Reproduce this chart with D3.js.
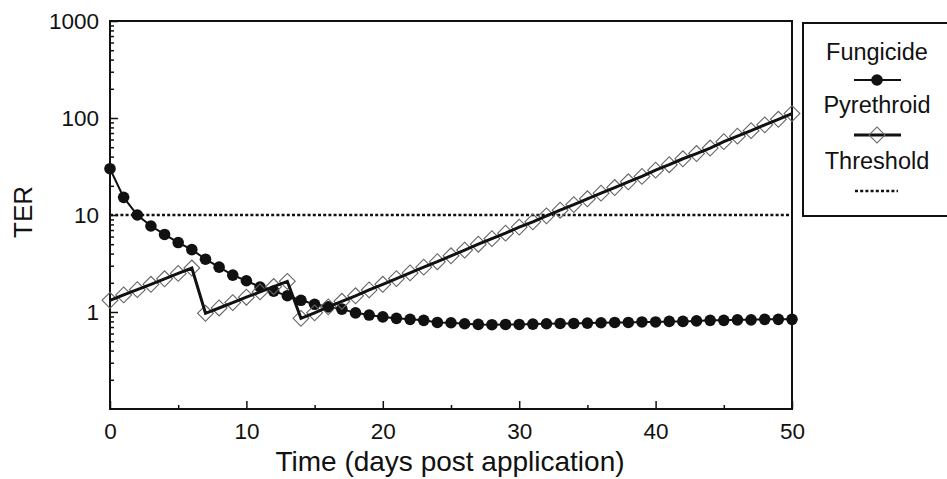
<!DOCTYPE html>
<html>
<head>
<meta charset="utf-8">
<script src="https://cdn.jsdelivr.net/npm/d3@7"></script>
<style>
  body { margin: 0; background: #fff; }
  svg { display: block; font-family: "Liberation Sans", Arial, sans-serif; }
  .axis text { font-size: 22.5px; fill: #111; }
  .axis line { stroke: #111; stroke-width: 1.5; }
</style>
</head>
<body>
<div id="chart"></div>
<script>
// days after application
var days = [0, 1, 2, 3, 4, 5, 6, 7, 8, 9, 10, 11, 12, 13, 14, 15, 16, 17, 18, 19, 20,
  21, 22, 23, 24, 25, 26, 27, 28, 29, 30, 31, 32, 33, 34, 35, 36, 37, 38, 39, 40,
  41, 42, 43, 44, 45, 46, 47, 48, 49, 50];

var fungicideTER = [30, 15.2, 10, 7.7, 6.3, 5.2, 4.4, 3.5, 2.9, 2.4, 2.1,
  1.81, 1.64, 1.47, 1.32, 1.2, 1.13, 1.07, 0.98, 0.93, 0.89,
  0.86, 0.84, 0.82, 0.78, 0.775, 0.757, 0.745, 0.74, 0.744, 0.744,
  0.75, 0.757, 0.762, 0.762, 0.768, 0.775, 0.78, 0.78, 0.79, 0.79,
  0.80, 0.80, 0.81, 0.82, 0.82, 0.83, 0.83, 0.84, 0.84, 0.84];

var pyrethroidTER = [1.32, 1.50, 1.70, 1.93, 2.2, 2.5, 2.84,
  0.97, 1.10, 1.25, 1.42, 1.61, 1.83, 2.07,
  0.86, 0.98, 1.13, 1.29, 1.47, 1.69, 1.93, 2.21, 2.53, 2.9, 3.3,
  3.8, 4.35, 5.0, 5.7, 6.5, 7.5, 8.5, 9.8, 11.2, 12.8,
  14.7, 16.8, 19.2, 22, 25, 29, 33, 38, 43, 49,
  57, 65, 74, 85, 97, 111];

var thresholdTER = 10;

var seriesNames = ["Fungicide", "Pyrethroid", "Threshold"];

var xMajorTicks = [0, 10, 20, 30, 40, 50];
var xMinorTicks = [5, 15, 25, 35, 45];
var yMajorTicks = [1, 10, 100, 1000];
var yMinorTicks = [0.2, 0.3, 0.4, 0.5, 0.6, 0.7, 0.8, 0.9,
  2, 3, 4, 5, 6, 7, 8, 9, 20, 30, 40, 50, 60, 70, 80, 90,
  200, 300, 400, 500, 600, 700, 800, 900];

var W = 947, H = 479;
var plot = {left: 110, right: 792, top: 21, bottom: 409};

var svg = d3.select("#chart").append("svg")
  .attr("width", W)
  .attr("height", H);

var x = d3.scaleLinear().domain([0, 50]).range([plot.left, plot.right]);
var y = d3.scaleLog().domain([0.1, 1000]).range([plot.bottom, plot.top]);

// minor ticks first so major ones sit on top
svg.append("g").attr("class", "axis")
  .attr("transform", "translate(0," + plot.bottom + ")")
  .call(d3.axisBottom(x).tickValues(xMinorTicks).tickSize(-4).tickFormat(""))
  .call(function(g){ g.select(".domain").remove(); });

svg.append("g").attr("class", "axis")
  .attr("transform", "translate(0," + plot.bottom + ")")
  .call(d3.axisBottom(x).tickValues(xMajorTicks).tickSize(-8).tickPadding(14).tickFormat(d3.format("d")))
  .call(function(g){ g.select(".domain").remove(); });

svg.append("g").attr("class", "axis")
  .attr("transform", "translate(" + plot.left + ",0)")
  .call(d3.axisLeft(y).tickValues(yMinorTicks).tickSize(-4).tickFormat(""))
  .call(function(g){ g.select(".domain").remove(); });

svg.append("g").attr("class", "axis")
  .attr("transform", "translate(" + plot.left + ",0)")
  .call(d3.axisLeft(y).tickValues(yMajorTicks).tickSize(-8).tickPadding(11).tickFormat(d3.format("d")))
  .call(function(g){ g.select(".domain").remove(); });

// frame
svg.append("rect")
  .attr("x", plot.left)
  .attr("y", plot.top)
  .attr("width", plot.right - plot.left)
  .attr("height", plot.bottom - plot.top)
  .attr("fill", "none")
  .attr("stroke", "#111")
  .attr("stroke-width", 2);

// threshold
svg.append("line")
  .attr("x1", x(0)).attr("x2", x(50))
  .attr("y1", y(thresholdTER)).attr("y2", y(thresholdTER))
  .attr("stroke", "#111")
  .attr("stroke-width", 2.5)
  .attr("stroke-dasharray", "3,2.2");

var fungData = days.map(function(d, i){ return {day: d, v: fungicideTER[i]}; });
var pyrData = days.map(function(d, i){ return {day: d, v: pyrethroidTER[i]}; });

var line = d3.line()
  .x(function(d){ return x(d.day); })
  .y(function(d){ return y(d.v); });

svg.append("path")
  .datum(fungData)
  .attr("d", line)
  .attr("fill", "none")
  .attr("stroke", "#111")
  .attr("stroke-width", 2);

svg.selectAll(".fdot")
  .data(fungData)
  .enter().append("circle")
  .attr("class", "fdot")
  .attr("cx", function(d){ return x(d.day); })
  .attr("cy", function(d){ return y(d.v); })
  .attr("r", 5.8)
  .attr("fill", "#111");

var diamond = d3.symbol().type(d3.symbolSquare).size(125);

svg.selectAll(".pdia")
  .data(pyrData)
  .enter().append("path")
  .attr("class", "pdia")
  .attr("d", diamond)
  .attr("transform", function(d){ return "translate(" + x(d.day) + "," + y(d.v) + ") rotate(45)"; })
  .attr("fill", "none")
  .attr("stroke", "#666")
  .attr("stroke-width", 1.1);

svg.append("path")
  .datum(pyrData)
  .attr("d", line)
  .attr("fill", "none")
  .attr("stroke", "#111")
  .attr("stroke-width", 3);

// axis titles
svg.append("text")
  .attr("x", 450)
  .attr("y", 471)
  .attr("text-anchor", "middle")
  .style("font-size", "28px")
  .attr("fill", "#111")
  .text("Time (days post application)");

svg.append("text")
  .attr("text-anchor", "middle")
  .attr("transform", "translate(32,212)rotate(-90)")
  .style("font-size", "26px")
  .attr("fill", "#111")
  .text("TER");

// legend
var lg = svg.append("g");
lg.append("rect")
  .attr("x", 803).attr("y", 23)
  .attr("width", 170).attr("height", 193)
  .attr("fill", "none")
  .attr("stroke", "#111")
  .attr("stroke-width", 2);

var lx = 877;
var labelY = [60, 113, 169];
var symY = [80, 135, 191];

lg.selectAll(".ltext")
  .data(seriesNames)
  .enter().append("text")
  .attr("x", lx)
  .attr("y", function(d, i){ return labelY[i]; })
  .attr("text-anchor", "middle")
  .style("font-size", "23.5px")
  .attr("fill", "#111")
  .text(function(d){ return d; });

lg.append("line")
  .attr("x1", 854).attr("x2", 901).attr("y1", symY[0]).attr("y2", symY[0])
  .attr("stroke", "#111").attr("stroke-width", 2);
lg.append("circle")
  .attr("cx", lx).attr("cy", symY[0]).attr("r", 5.8).attr("fill", "#111");

lg.append("line")
  .attr("x1", 854).attr("x2", 901).attr("y1", symY[1]).attr("y2", symY[1])
  .attr("stroke", "#111").attr("stroke-width", 3);
lg.append("path")
  .attr("d", diamond)
  .attr("transform", "translate(" + lx + "," + symY[1] + ") rotate(45)")
  .attr("fill", "none").attr("stroke", "#666").attr("stroke-width", 1.1);

lg.append("line")
  .attr("x1", 855).attr("x2", 898).attr("y1", symY[2]).attr("y2", symY[2])
  .attr("stroke", "#111").attr("stroke-width", 2.5)
  .attr("stroke-dasharray", "3,2.2");
</script>
</body>
</html>
